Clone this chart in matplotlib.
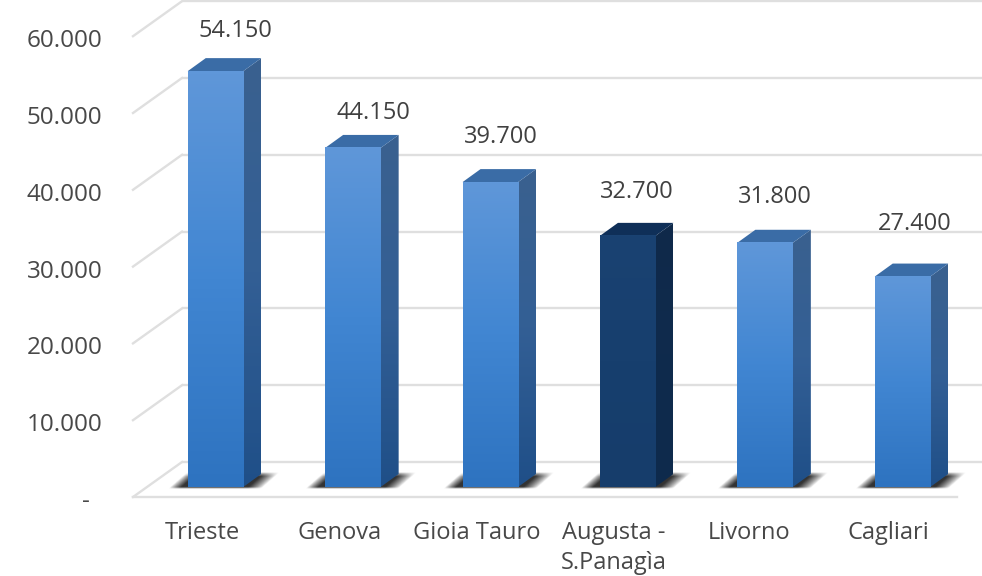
import numpy as np
import matplotlib
matplotlib.use("Agg")
import matplotlib.pyplot as plt
from matplotlib.colors import LinearSegmentedColormap
from matplotlib.patches import Polygon
from matplotlib.transforms import Affine2D

plt.rcParams['font.family'] = ['Open Sans', 'DejaVu Sans']

# ---- data ----
categories = ["Trieste", "Genova", "Gioia Tauro", "Augusta -\nS.Panagìa", "Livorno", "Cagliari"]
values = [54150, 44150, 39700, 32700, 31800, 27400]
value_labels = ["54.150", "44.150", "39.700", "32.700", "31.800", "27.400"]
y_ticks = [0, 10000, 20000, 30000, 40000, 50000, 60000]
y_tick_labels = ["-", "10.000", "20.000", "30.000", "40.000", "50.000", "60.000"]

# ---- layout (pixels) ----
W, H = 982, 576
PX_X = 137.4            # pixels per category
PX_Y = 7.68 / 1000      # pixels per unit
X0_PX, Y0_PX = 215.5, 487
AX_L, AX_B = 133, 497
BAR_W = 55.5 / PX_X
DEPTH_X, DEPTH_Y = 18, 13
label_dx = [20, 21, 11, 9, 10, 12]
label_dy = [40, 35, 45, 44, 46, 53]
cat_dx = [-13, -13, -14, -14, -16, -14]
HIGHLIGHT = 3

fig = plt.figure(figsize=(W / 100, H / 100), dpi=100, facecolor="white")
ax = fig.add_axes([AX_L / W, (H - AX_B) / H, (W - AX_L) / W, AX_B / H])
xlim = ((AX_L - X0_PX) / PX_X, (W - X0_PX) / PX_X)
ylim = ((Y0_PX - AX_B) / PX_Y, Y0_PX / PX_Y)


def shift(dx, dy):
    return ax.transData + Affine2D().translate(dx, dy)


# ---- walls / floor ----
GRID = "#DFDFDF"
x_a = xlim[0]
x_b = (957 - X0_PX) / PX_X
for v in y_ticks:
    ax.plot([x_a, x_b + 0.4], [v, v], color=GRID, lw=1.7, transform=shift(49, 25),
            clip_on=False, zorder=1, solid_capstyle="butt")
    ax.plot([x_a, x_a + 49 / PX_X], [v - 35 / PX_Y, v], color=GRID, lw=1.7,
            transform=shift(0, 25), clip_on=False, zorder=1)
ax.plot([x_a, x_b], [0, 0], color=GRID, lw=1.7, transform=shift(0, -10),
        clip_on=False, zorder=1)

# ---- colours ----
front_cm = LinearSegmentedColormap.from_list("f", ["#5F97D9", "#4186D2", "#2E73C0"])
side_cm = LinearSegmentedColormap.from_list("s", ["#3A618F", "#335F95", "#1F4F88"])
front_dk = LinearSegmentedColormap.from_list("fd", ["#1A4272", "#173F6E", "#163D6B"])
side_dk = LinearSegmentedColormap.from_list("sd", ["#10294A", "#0F2B4D", "#0E2A4C"])
grad = np.linspace(0, 1, 128).reshape(-1, 1)

# ---- bars ----
ddx = DEPTH_X / PX_X
ddy = DEPTH_Y / PX_Y
for i, (v, lab) in enumerate(zip(values, value_labels)):
    L, R = i - BAR_W / 2, i + BAR_W / 2
    dark = i == HIGHLIGHT

    # blurred floor shadow
    sx0, sx1 = L - 20 / PX_X, R + 36 / PX_X
    sy0, sy1 = -2.5 / PX_Y, 14 / PX_Y
    xx, yy = np.meshgrid(np.linspace(0, 1, 200), np.linspace(1, 0, 40))
    sheared = xx - 0.17 * yy
    a = np.clip(sheared / 0.10, 0, 1) * np.clip((0.83 - sheared) / 0.13, 0, 1)
    a = a * np.clip(yy / 0.12, 0, 1) * np.clip((1 - yy) / 0.25, 0, 1)
    rgba = np.zeros(a.shape + (4,))
    rgba[..., :3] = 0.2
    rgba[..., 3] = a ** 0.8
    ax.imshow(rgba, extent=[sx0, sx1, sy0, sy1], aspect="auto", zorder=2,
              interpolation="bilinear")

    # side face
    side_pts = [(R, 0), (R + ddx, ddy), (R + ddx, v + ddy), (R, v)]
    side_im = ax.imshow(grad, extent=[R, R + ddx, 0, v + ddy], aspect="auto", zorder=3,
                        cmap=side_dk if dark else side_cm, vmin=0, vmax=1)
    side_poly = Polygon(side_pts, closed=True, transform=ax.transData, fc="none", ec="none")
    ax.add_patch(side_poly)
    side_im.set_clip_path(side_poly)

    # top face
    ax.add_patch(Polygon([(L, v), (L + ddx, v + ddy), (R + ddx, v + ddy), (R, v)], closed=True,
                         fc="#0F2F58" if dark else "#3A6CA6", ec="none", zorder=4))

    # front face
    ax.imshow(grad, extent=[L, R, 0, v], aspect="auto", zorder=5,
              cmap=front_dk if dark else front_cm, vmin=0, vmax=1)

    # value label
    ax.annotate(lab, xy=(i, v), xytext=(label_dx[i] * 0.72, label_dy[i] * 0.72),
                textcoords="offset points", ha="center", va="center",
                fontsize=17, color="#404040", zorder=6, annotation_clip=False)

# ---- axes ----
ax.set_xlim(*xlim)
ax.set_ylim(*ylim)
ax.set_facecolor("none")
for s in ax.spines.values():
    s.set_visible(False)

ax.set_yticks(y_ticks)
ax.set_yticklabels(y_tick_labels, fontsize=17.5, color="#484848")
ax.tick_params(axis="y", length=0, pad=22)
for t, tick in zip(ax.get_yticklabels(), y_ticks):
    t.set_transform(t.get_transform() + Affine2D().translate(-13 if tick == 0 else 0, -12))

ax.set_xticks(range(len(categories)))
ax.set_xticklabels(categories, fontsize=17, color="#484848", linespacing=1.37)
ax.tick_params(axis="x", length=0, pad=17)
for t, d in zip(ax.get_xticklabels(), cat_dx):
    t.set_transform(t.get_transform() + Affine2D().translate(d, 0))

fig.savefig("out.png", dpi=100, facecolor="white")
